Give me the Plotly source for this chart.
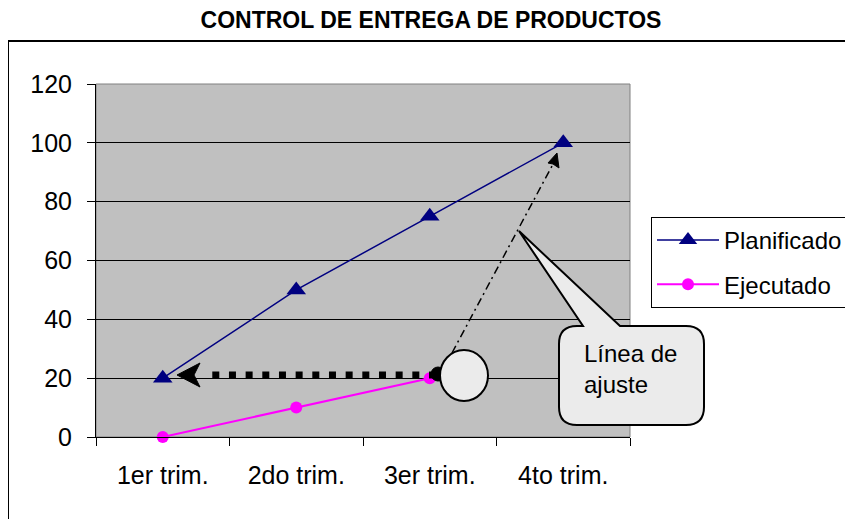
import plotly.graph_objects as go

# ---- data ----
categories = ["1er trim.", "2do trim.", "3er trim.", "4to trim."]
planificado = [20, 50, 75, 100]
ejecutado = [0, 10, 20]
y_ticks = [0, 20, 40, 60, 80, 100, 120]
title_text = "CONTROL DE ENTREGA DE PRODUCTOS"
callout_text = "Línea de<br>ajuste"

W, H = 853, 519
OFF = 8                          # page body offset
L, R, T, B = 96, 630, 84, 437    # plot area in window pixels
FONT = "Arial, Liberation Sans, sans-serif"


def px(x):
    return (x - L) / (R - L)


def py(y):
    return (B - y) / (B - T)


def path(points, close=True):
    s = "M " + " L ".join(f"{px(x):.5f},{py(y):.5f}" for x, y in points)
    return s + (" Z" if close else "")


fig = go.Figure()
fig.add_trace(go.Scatter(
    x=categories, y=planificado, name="Planificado", mode="lines+markers",
    line=dict(color="#000080", width=1.5),
    marker=dict(symbol="triangle-up", size=17, color="#000080"),
    cliponaxis=False, legendgroup="a"))
fig.add_trace(go.Scatter(
    x=categories[:len(ejecutado)], y=ejecutado, name="Ejecutado", mode="lines+markers",
    line=dict(color="#FF00FF", width=2),
    marker=dict(symbol="circle", size=12, color="#FF00FF"),
    cliponaxis=False, legendgroup="b"))

shapes = []
# outer chart border (extends beyond the canvas on right/bottom)
shapes.append(dict(type="rect", xref="paper", yref="paper", x0=px(8), y0=py(560),
                   x1=px(900), y1=py(41), line=dict(color="black", width=2), layer="below"))
# plot area border top/right
shapes.append(dict(type="rect", xref="paper", yref="paper", x0=0, y0=0, x1=1, y1=1,
                   line=dict(color="#808080", width=1), layer="below"))
# dotted thick arrow
shapes.append(dict(type="line", xref="paper", yref="paper", x0=px(436), y0=py(375),
                   x1=px(211.7), y1=py(375), line=dict(color="black", width=7, dash="7px,9.67px")))
shapes.append(dict(type="path", xref="paper", yref="paper",
                   path=path([(177, 375), (200, 363), (194, 375), (200, 387)]),
                   fillcolor="black", line=dict(color="black", width=1)))
shapes.append(dict(type="circle", xref="paper", yref="paper", x0=px(431), y0=py(381),
                   x1=px(445), y1=py(367), fillcolor="black", line=dict(color="black", width=1)))
# dash-dot adjustment line with arrow
shapes.append(dict(type="line", xref="paper", yref="paper", x0=px(452), y0=py(353),
                   x1=px(552), y1=py(166), line=dict(color="black", width=1.5, dash="8px,4px,2px,4px")))
shapes.append(dict(type="path", xref="paper", yref="paper",
                   path=path([(557, 153), (548, 163), (553, 164), (559, 168)]),
                   fillcolor="black", line=dict(color="black", width=1)))
# big circle
shapes.append(dict(type="circle", xref="paper", yref="paper", x0=px(440), y0=py(401),
                   x1=px(488), y1=py(350), fillcolor="#EBEBEB", line=dict(color="black", width=2)))
# callout
r = 18
x0c, x1c, y0c, y1c = 559, 704, 326, 425
cp = (f"M {px(x0c + r):.5f},{py(y0c):.5f} L {px(583):.5f},{py(y0c):.5f} "
      f"L {px(519):.5f},{py(231):.5f} L {px(620):.5f},{py(y0c):.5f} "
      f"L {px(x1c - r):.5f},{py(y0c):.5f} Q {px(x1c):.5f},{py(y0c):.5f} {px(x1c):.5f},{py(y0c + r):.5f} "
      f"L {px(x1c):.5f},{py(y1c - r):.5f} Q {px(x1c):.5f},{py(y1c):.5f} {px(x1c - r):.5f},{py(y1c):.5f} "
      f"L {px(x0c + r):.5f},{py(y1c):.5f} Q {px(x0c):.5f},{py(y1c):.5f} {px(x0c):.5f},{py(y1c - r):.5f} "
      f"L {px(x0c):.5f},{py(y0c + r):.5f} Q {px(x0c):.5f},{py(y0c):.5f} {px(x0c + r):.5f},{py(y0c):.5f} Z")
shapes.append(dict(type="path", xref="paper", yref="paper", path=cp,
                   fillcolor="#EBEBEB", line=dict(color="black", width=2)))

annotations = [dict(xref="paper", yref="paper", x=px(582), y=py(368.5), xanchor="left",
                    yanchor="middle", align="left", showarrow=False, text=callout_text,
                    font=dict(family=FONT, size=24, color="black"))]

fig.update_layout(
    width=W, height=H,
    margin=dict(l=L - OFF, r=W - (R - OFF), t=T - OFF, b=H - (B - OFF), pad=0),
    paper_bgcolor="white", plot_bgcolor="#C0C0C0",
    font=dict(family=FONT, size=25, color="black"),
    title=dict(text="<b>" + title_text + "</b>", x=(431 - OFF) / W, xref="container",
               xanchor="center", y=1 - (20 - OFF) / H, yref="container", yanchor="middle",
               font=dict(family=FONT, size=23, color="black")),
    xaxis=dict(type="category", range=[-0.5, 3.5], showgrid=False, showline=True,
               linecolor="black", linewidth=1, ticks="outside", ticklen=8, tickcolor="black",
               tickson="boundaries", ticklabelstandoff=16, zeroline=False),
    yaxis=dict(range=[0, 120], tickvals=y_ticks, showgrid=True, gridcolor="black", gridwidth=1,
               showline=True, linecolor="black", linewidth=1, ticks="outside", ticklen=8,
               tickcolor="black", zeroline=False, ticklabelstandoff=10),
    legend=dict(x=px(651), y=py(217), xanchor="left", yanchor="top", bgcolor="white",
                bordercolor="black", borderwidth=1, font=dict(family=FONT, size=24),
                tracegroupgap=10, itemwidth=62),
    shapes=shapes, annotations=annotations,
)

fig.write_html("out.html")
